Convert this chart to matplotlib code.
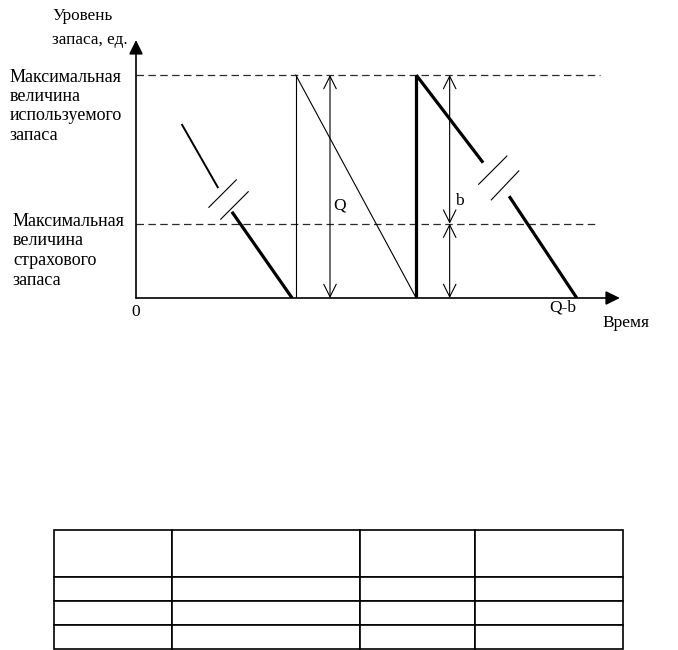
import numpy as np
import matplotlib
matplotlib.use("Agg")
import matplotlib.pyplot as plt

plt.rcParams['font.family'] = ['Liberation Serif', 'DejaVu Serif']

# уровни запаса (в единицах страхового запаса)
max_level = 3.0
safety_level = 1.0

# моменты времени
t_left_start, t_left_break = 0.62, 1.10     # верхняя тонкая часть левого участка
t_left_resume, t_left_end = 1.29, 2.10      # нижняя толстая часть
t_q_order = 2.15                            # пополнение до максимума
t_q_arrow = 2.61
t_zero = 3.77                               # запас исчерпан / второе пополнение
t_b_arrow = 4.22
t_right_break, t_right_resume = 4.67, 5.02
t_right_end = 5.93
t_dash_max_end, t_dash_safe_end = 6.24, 6.18
t_axis_end, y_axis_end = 6.51, 3.47

# уровни на концах разрывов
lvl_left_start, lvl_left_break, lvl_left_resume = 2.33, 1.49, 1.16
lvl_right_break, lvl_right_resume = 1.82, 1.37

# значки разрыва (пары отрезков)
left_breaks = [((0.98, 1.22), (1.35, 1.59)), ((1.14, 1.06), (1.51, 1.43))]
right_breaks = [((4.61, 1.53), (4.99, 1.91)), ((4.78, 1.32), (5.15, 1.71))]

# пустая таблица
col_widths = [118, 188, 115, 148]
row_heights = [47, 24, 24, 24]

W, H = 678, 650
fig = plt.figure(figsize=(W / 100, H / 100), dpi=100)


def fx(x):
    return x / W


def fy(y):
    return 1 - y / H


# ~~~~~~~~~~ chart area ~~~~~~~~~~
x0, y0 = 136, 298        # origin in pixels
unit = 74.33             # pixels per unit
ax = fig.add_axes([fx(x0), fy(y0), t_axis_end * unit / W, y_axis_end * unit / H])
ax.set_xlim(0, t_axis_end)
ax.set_ylim(0, y_axis_end)
ax.axis('off')

thin, thick = 0.8, 2.3
k = 'black'

# axes with filled arrows
axis_arrow = dict(arrowstyle='-|>,head_length=0.85,head_width=0.42', color=k,
                  lw=1.2, shrinkA=0, shrinkB=0, mutation_scale=10)
ax.annotate('', xy=(t_axis_end, 0), xytext=(0, 0), arrowprops=axis_arrow,
            annotation_clip=False)
ax.annotate('', xy=(0, y_axis_end), xytext=(0, 0), arrowprops=axis_arrow,
            annotation_clip=False)

# dashed levels
ax.plot([0, t_dash_max_end], [max_level, max_level], color='#2a2a2a', lw=0.9,
        ls=(0, (6, 3.5)), clip_on=False)
ax.plot([0, t_dash_safe_end], [safety_level, safety_level], color='#2a2a2a', lw=0.9,
        ls=(0, (6, 3.5)), clip_on=False)

# left segment
ax.plot([t_left_start, t_left_break], [lvl_left_start, lvl_left_break], color=k, lw=1.4)
ax.plot([t_left_resume, t_left_end], [lvl_left_resume, 0], color=k, lw=thick,
        solid_capstyle='butt')
for (a, b) in left_breaks:
    ax.plot([a[0], b[0]], [a[1], b[1]], color=k, lw=thin)

# first cycle: thin
ax.plot([t_q_order, t_q_order], [0, max_level], color=k, lw=thin)
ax.plot([t_q_order, t_zero], [max_level, 0], color=k, lw=thin)

# second cycle: thick
ax.plot([t_zero, t_zero], [0, max_level], color=k, lw=thick, solid_capstyle='butt')
ax.plot([t_zero, t_right_break], [max_level, lvl_right_break], color=k, lw=thick,
        solid_capstyle='butt')
ax.plot([t_right_resume, t_right_end], [lvl_right_resume, 0], color=k, lw=thick,
        solid_capstyle='butt')
for (a, b) in right_breaks:
    ax.plot([a[0], b[0]], [a[1], b[1]], color=k, lw=thin)

# dimension arrows
dim_arrow = dict(arrowstyle='<->,head_length=0.9,head_width=0.45', color=k,
                 lw=0.8, shrinkA=0, shrinkB=0, mutation_scale=10)
ax.annotate('', xy=(t_q_arrow, max_level), xytext=(t_q_arrow, 0), arrowprops=dim_arrow)
ax.annotate('', xy=(t_b_arrow, max_level), xytext=(t_b_arrow, safety_level),
            arrowprops=dim_arrow)
ax.annotate('', xy=(t_b_arrow, safety_level), xytext=(t_b_arrow, 0), arrowprops=dim_arrow)

fs = 12.5
ax.text(t_q_arrow + 0.05, 1.25, 'Q', fontsize=fs, ha='left', va='center')
ax.text(t_b_arrow + 0.07, 1.3, 'b', fontsize=fs, ha='left', va='center')

# ~~~~~~~~~~ labels ~~~~~~~~~~
fig.text(fx(52), fy(16), 'Уровень', fontsize=12.3, va='center', ha='left')
fig.text(fx(52), fy(40), 'запаса, ед.', fontsize=12.3, va='center', ha='left')

for i, s in enumerate(['Максимальная', 'величина', 'используемого', 'запаса']):
    fig.text(fx(10), fy(77 + 19.5 * i), s, fontsize=13, va='center', ha='left')
for i, s in enumerate(['Максимальная', 'величина', 'страхового', 'запаса']):
    fig.text(fx(13), fy(221 + 19.7 * i), s, fontsize=13, va='center', ha='left')

fig.text(fx(136), fy(312), '0', fontsize=fs, va='center', ha='center')
fig.text(fx(563), fy(308), 'Q-b', fontsize=fs, va='center', ha='center')
fig.text(fx(626), fy(323), 'Время', fontsize=fs, va='center', ha='center')

# ~~~~~~~~~~ empty table ~~~~~~~~~~
tb_left, tb_top = 54, 530
tb_w, tb_h = sum(col_widths), sum(row_heights)
tax = fig.add_axes([fx(tb_left), fy(tb_top + tb_h), tb_w / W, tb_h / H])
tax.axis('off')
tbl = tax.table(cellText=[[''] * len(col_widths) for _ in row_heights],
                bbox=[0, 0, 1, 1])
for (r, c), cell in tbl.get_celld().items():
    cell.set_width(col_widths[c])
    cell.set_height(row_heights[r])
    cell.set_linewidth(1.2)
    cell.set_edgecolor(k)

fig.savefig('out.png', dpi=100, facecolor='white')
